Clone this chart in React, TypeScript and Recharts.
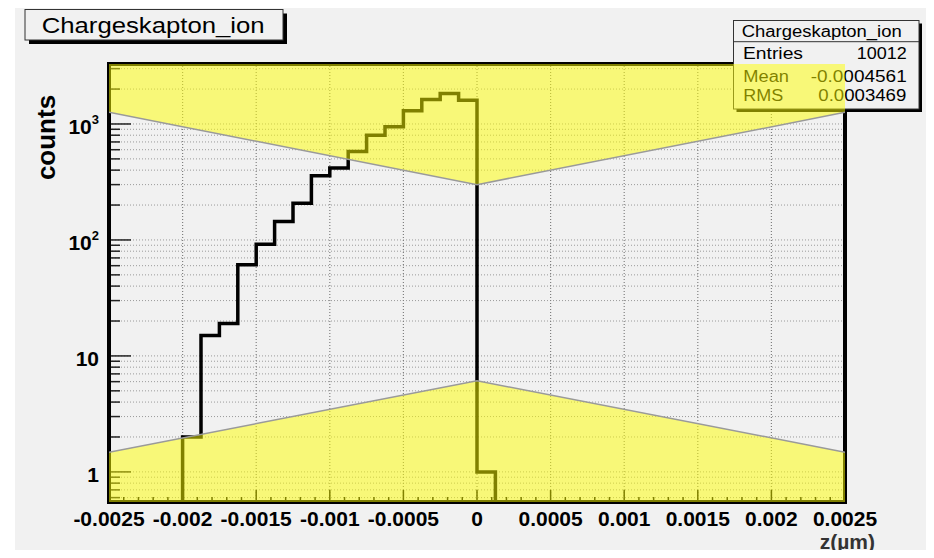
import { ComposedChart, Line, Area, XAxis, YAxis, CartesianGrid, ReferenceLine } from 'recharts';

const W = 934;
const H = 558;

// histogram of z: 40 bins of 0.000125 starting at -0.0025
const xLow = -0.0025;
const xHigh = 0.0025;
const binWidth = 0.000125;
const counts = [
  0, 0, 0, 0, 2, 15, 19, 61, 92, 144, 207, 357, 417, 579, 798, 948, 1303, 1622, 1828, 1600,
  1, 0, 0, 0, 0, 0, 0, 0, 0, 0, 0, 0, 0, 0, 0, 0, 0, 0, 0, 0,
];

// yellow bands (edge values at z = -0.0025, 0, 0.0025)
const bandX = [-0.0025, 0, 0.0025];
const bandUpper = [1260, 300, 1260];
const bandLower = [1.48, 6.1, 1.48];

const xMajorTicks = [-0.0025, -0.002, -0.0015, -0.001, -0.0005, 0, 0.0005, 0.001, 0.0015, 0.002, 0.0025];
const xTickLabels = ['-0.0025', '-0.002', '-0.0015', '-0.001', '-0.0005', '0', '0.0005', '0.001', '0.0015', '0.002', '0.0025'];
const yMajorTicks = [1, 10, 100, 1000];
const yTickBase = ['1', '10', '10', '10'];
const yTickExp = ['', '', '2', '3'];

const histName = 'Chargeskapton_ion';
const statEntries = '10012';
const statMean = '-0.0004561';
const statRms = '0.0003469';

const yMin = 0.55;
const yMax = 3290;
const yFloor = 0.05; // empty bins drop below the frame

// plot area inside the pad
const PL = 109;
const PR = 845;
const PT = 64;
const PB = 502;

const xAllTicks: number[] = [];
for (let i = -25; i <= 25; i++) xAllTicks.push(i / 10000);

const yAllTicks: number[] = [];
for (const dec of [0.1, 1, 10, 100, 1000]) {
  for (let m = 1; m <= 9; m++) {
    const v = Number((m * dec).toPrecision(3));
    if (v >= yMin && v <= yMax) yAllTicks.push(v);
  }
}

const histPoints = Array.from({ length: counts.length + 1 }, (_, i) => {
  const c = counts[Math.min(i, counts.length - 1)];
  return { x: Number((xLow + i * binWidth).toFixed(6)), y: c > 0 ? c : yFloor };
});

const bandData = bandX.map((x, i) => ({ x, upper: bandUpper[i], lower: bandLower[i] }));

const FONT = '"Liberation Sans", Arial, Helvetica, sans-serif';

const XTick = ({ x, y, payload }: any) => {
  const k = xMajorTicks.findIndex((t) => Math.abs(t - payload.value) < 1e-9);
  const major = k >= 0;
  return (
    <g>
      <line x1={x} x2={x} y1={y} y2={y - (major ? 12 : 5)} stroke="#000" strokeWidth={1.5} />
      {major && (
        <text x={x} y={y + 24} textAnchor="middle" fontSize={21} fontWeight="bold" fill="#000" fontFamily={FONT}>
          {xTickLabels[k]}
        </text>
      )}
    </g>
  );
};

const YTick = ({ x, y, payload }: any) => {
  const k = yMajorTicks.indexOf(payload.value);
  const major = k >= 0;
  return (
    <g>
      <line x1={x} x2={x + (major ? 22 : 11)} y1={y} y2={y} stroke="#222" strokeWidth={1.5} />
      {major && (
        <text x={x - 10} y={y + 10} textAnchor="end" fontSize={21} fontWeight="bold" fill="#000" fontFamily={FONT}>
          {yTickBase[k]}
          {yTickExp[k] && (
            <tspan dy={-10} fontSize={13}>
              {yTickExp[k]}
            </tspan>
          )}
        </text>
      )}
    </g>
  );
};

export default function App() {
  return (
    <div style={{ position: 'relative', width: W, height: H, margin: -8, background: '#fff', overflow: 'hidden', fontFamily: FONT }}>
      <div style={{ position: 'absolute', left: 15, top: 8, width: W - 15, height: H - 8, background: '#f1f1f1' }} />

      {/* grid, histogram and axes */}
      <div style={{ position: 'absolute', left: 0, top: 0 }}>
        <ComposedChart width={W} height={H} data={histPoints} margin={{ top: PT, right: W - PR, bottom: H - PB - 40, left: PL - 60 }}>
          <CartesianGrid stroke="#9a9a9a" strokeDasharray="1 2" vertical={false} />
          {xMajorTicks.slice(1, -1).map((v) => (
            <ReferenceLine key={v} x={v} stroke="#808080" strokeWidth={1.2} strokeDasharray="1 2" />
          ))}
          <XAxis
            dataKey="x"
            type="number"
            domain={[xLow, xHigh]}
            allowDataOverflow
            ticks={xAllTicks}
            interval={0}
            height={40}
            axisLine={false}
            tickLine={false}
            tickSize={0}
            tickMargin={0}
            tick={<XTick />}
          />
          <YAxis
            type="number"
            scale="log"
            domain={[yMin, yMax]}
            allowDataOverflow
            ticks={yAllTicks}
            interval={0}
            width={60}
            axisLine={false}
            tickLine={false}
            tickSize={0}
            tickMargin={0}
            tick={<YTick />}
          />
          <Line
            type="stepAfter"
            dataKey="y"
            stroke="#000"
            strokeWidth={3.5}
            dot={false}
            activeDot={false}
            isAnimationActive={false}
          />
        </ComposedChart>
      </div>

      {/* frame, title box, stats box and axis titles */}
      <svg width={W} height={H} style={{ position: 'absolute', left: 0, top: 0 }}>
        <rect x={PL} y={PT} width={PR - PL} height={PB - PT} fill="none" stroke="#000" strokeWidth={4} />

        <rect x={29} y={13.5} width={258} height={30.5} fill="#000" />
        <rect x={25} y={9.5} width={258} height={30.5} fill="#f1f1f1" stroke="#333" strokeWidth={1} />
        <text x={41.7} y={33.3} fontSize={22} textLength={223} lengthAdjust="spacingAndGlyphs" fill="#000">
          {histName}
        </text>

        <rect x={736.5} y={23.5} width={185.5} height={88.5} fill="#000" />
        <rect x={733.5} y={20.5} width={185.5} height={88.5} fill="#f1f1f1" stroke="#333" strokeWidth={1} />
        <line x1={733.5} x2={919} y1={41.7} y2={41.7} stroke="#333" strokeWidth={1} />
        <text x={741.7} y={36.7} fontSize={16} textLength={160} lengthAdjust="spacingAndGlyphs" fill="#000">
          {histName}
        </text>
        <text x={743} y={59.3} fontSize={16} textLength={60} lengthAdjust="spacingAndGlyphs" fill="#000">
          Entries
        </text>
        <text x={856.7} y={59.3} fontSize={16} textLength={50} lengthAdjust="spacingAndGlyphs" fill="#000">
          {statEntries}
        </text>
        <text x={743.3} y={82.2} fontSize={16} textLength={45.7} lengthAdjust="spacingAndGlyphs" fill="#000">
          Mean
        </text>
        <text x={810.7} y={82.2} fontSize={16} textLength={96} lengthAdjust="spacingAndGlyphs" fill="#000">
          {statMean}
        </text>
        <text x={743.3} y={100.7} fontSize={16} textLength={40} lengthAdjust="spacingAndGlyphs" fill="#000">
          RMS
        </text>
        <text x={818.3} y={100.7} fontSize={16} textLength={88} lengthAdjust="spacingAndGlyphs" fill="#000">
          {statRms}
        </text>

        <text transform="translate(55,137.5) rotate(-90)" textAnchor="middle" fontSize={26} fontWeight="bold" fill="#000">
          counts
        </text>
        <text x={875} y={549} textAnchor="end" fontSize={21} fontWeight="bold" fill="#333">
          z(µm)
        </text>
      </svg>

      {/* translucent yellow bands drawn over everything */}
      <div style={{ position: 'absolute', left: 0, top: 0, pointerEvents: 'none' }}>
        <ComposedChart width={W} height={H} data={bandData} margin={{ top: PT, right: W - PR, bottom: H - PB, left: PL }}>
          <XAxis dataKey="x" type="number" domain={[xLow, xHigh]} allowDataOverflow hide />
          <YAxis type="number" scale="log" domain={[yMin, yMax]} allowDataOverflow hide />
          <Area
            type="linear"
            dataKey="upper"
            baseValue={yMax}
            fill="#ffff00"
            fillOpacity={0.5}
            stroke="none"
            activeDot={false}
            isAnimationActive={false}
          />
          <Area
            type="linear"
            dataKey="lower"
            baseValue={yMin}
            fill="#ffff00"
            fillOpacity={0.5}
            stroke="none"
            activeDot={false}
            isAnimationActive={false}
          />
          <Line type="linear" dataKey="upper" stroke="#9a9a9a" strokeWidth={1.5} dot={false} activeDot={false} isAnimationActive={false} />
          <Line type="linear" dataKey="lower" stroke="#9a9a9a" strokeWidth={1.5} dot={false} activeDot={false} isAnimationActive={false} />
        </ComposedChart>
      </div>
    </div>
  );
}
